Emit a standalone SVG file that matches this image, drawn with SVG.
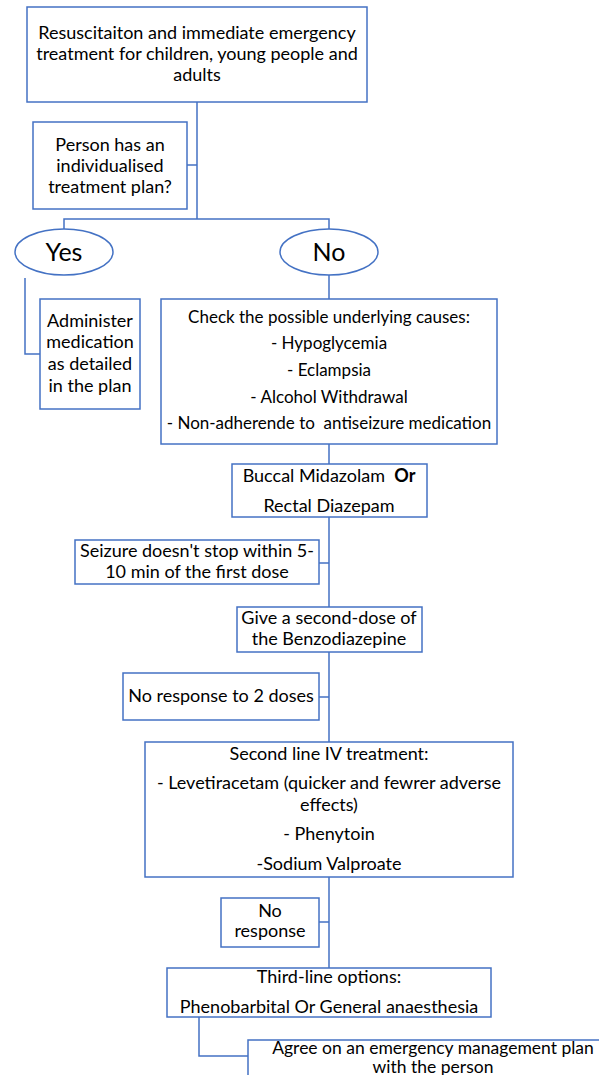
<svg xmlns="http://www.w3.org/2000/svg" width="599" height="1075" viewBox="0 0 599 1075">
<style>
.box{fill:#fff;stroke:#4472C4;stroke-width:1.5}
.ln{fill:none;stroke:#4472C4;stroke-width:1.5}
text{font-family:Lato,"Open Sans",sans-serif;font-size:18px;fill:#000;text-anchor:middle}
.big{font-size:25px}
.m{font-size:17px}
.a{font-size:17.5px}
</style>
<rect width="599" height="1075" fill="#fff"/>
<g id="connectors">
<path class="ln" d="M197,102 V219 M187,165 H197 M64,229 V219 H329 V229 M25,278 V354 H40 M329,274 V299 M329,444 V464 M329,517 V742 M319,563 H329 M319,697 H329 M329,877 V968 M319,922 H329 M199,1017 V1056 H248"/>
</g>
<g id="n-top"><rect class="box" x="27" y="7" width="340" height="95"/>
<text x="197" y="39">Resuscitaiton and immediate emergency</text><text x="197" y="60">treatment for children, young people and</text><text x="197" y="81">adults</text></g>
<g id="n-person"><rect class="box" x="33" y="122" width="154" height="87"/>
<text x="110" y="151">Person has an</text><text x="110" y="172">individualised</text><text x="110" y="193">treatment plan?</text></g>
<g id="n-yes"><ellipse class="box" cx="64" cy="252" rx="49" ry="23"/><text class="big" x="64" y="261">Yes</text></g>
<g id="n-no"><ellipse class="box" cx="329" cy="252" rx="49" ry="23"/><text class="big" x="329" y="261">No</text></g>
<g id="n-admin"><rect class="box" x="40" y="299" width="100" height="110"/>
<text x="90" y="327">Administer</text><text x="90" y="348">medication</text><text x="90" y="370">as detailed</text><text x="90" y="392">in the plan</text></g>
<g id="n-check"><rect class="box" x="161" y="299" width="336" height="145"/>
<text class="m" x="329" y="323">Check the possible underlying causes:</text><text class="m" x="329" y="349">- Hypoglycemia</text><text class="m" x="329" y="376">- Eclampsia</text><text class="m" x="329" y="403">- Alcohol Withdrawal</text><text class="m" x="329" y="429" xml:space="preserve">- Non-adherende to  antiseizure medication</text></g>
<g id="n-buccal"><rect class="box" x="232" y="464" width="195" height="53"/>
<text x="329" y="482" xml:space="preserve">Buccal Midazolam  <tspan font-weight="bold">Or</tspan></text><text x="329" y="512">Rectal Diazepam</text></g>
<g id="n-seizure"><rect class="box" x="75" y="540" width="244" height="44"/>
<text x="197" y="557">Seizure doesn't stop within 5-</text><text x="197" y="578">10 min of the first dose</text></g>
<g id="n-give"><rect class="box" x="237" y="607" width="185" height="45"/>
<text x="329" y="624">Give a second-dose of</text><text x="329" y="645">the Benzodiazepine</text></g>
<g id="n-noresp2"><rect class="box" x="123" y="673" width="196" height="47"/>
<text x="221" y="702">No response to 2 doses</text></g>
<g id="n-second"><rect class="box" x="145" y="742" width="368" height="135"/>
<text x="329" y="760">Second line IV treatment:</text><text x="329" y="789">- Levetiracetam (quicker and fewrer adverse</text><text x="329" y="811">effects)</text><text x="329" y="840">- Phenytoin</text><text x="329" y="870">-Sodium Valproate</text></g>
<g id="n-noresp"><rect class="box" x="221" y="898" width="98" height="49"/>
<text x="270" y="917">No</text><text x="270" y="937">response</text></g>
<g id="n-third"><rect class="box" x="167" y="968" width="324" height="49"/>
<text x="329" y="983">Third-line options:</text><text x="329" y="1013">Phenobarbital Or General anaesthesia</text></g>
<g id="n-agree"><rect class="box" x="248" y="1040" width="370" height="45"/>
<text class="a" x="433" y="1054">Agree on an emergency management plan</text><text class="a" x="433" y="1073">with the person</text></g>
</svg>
